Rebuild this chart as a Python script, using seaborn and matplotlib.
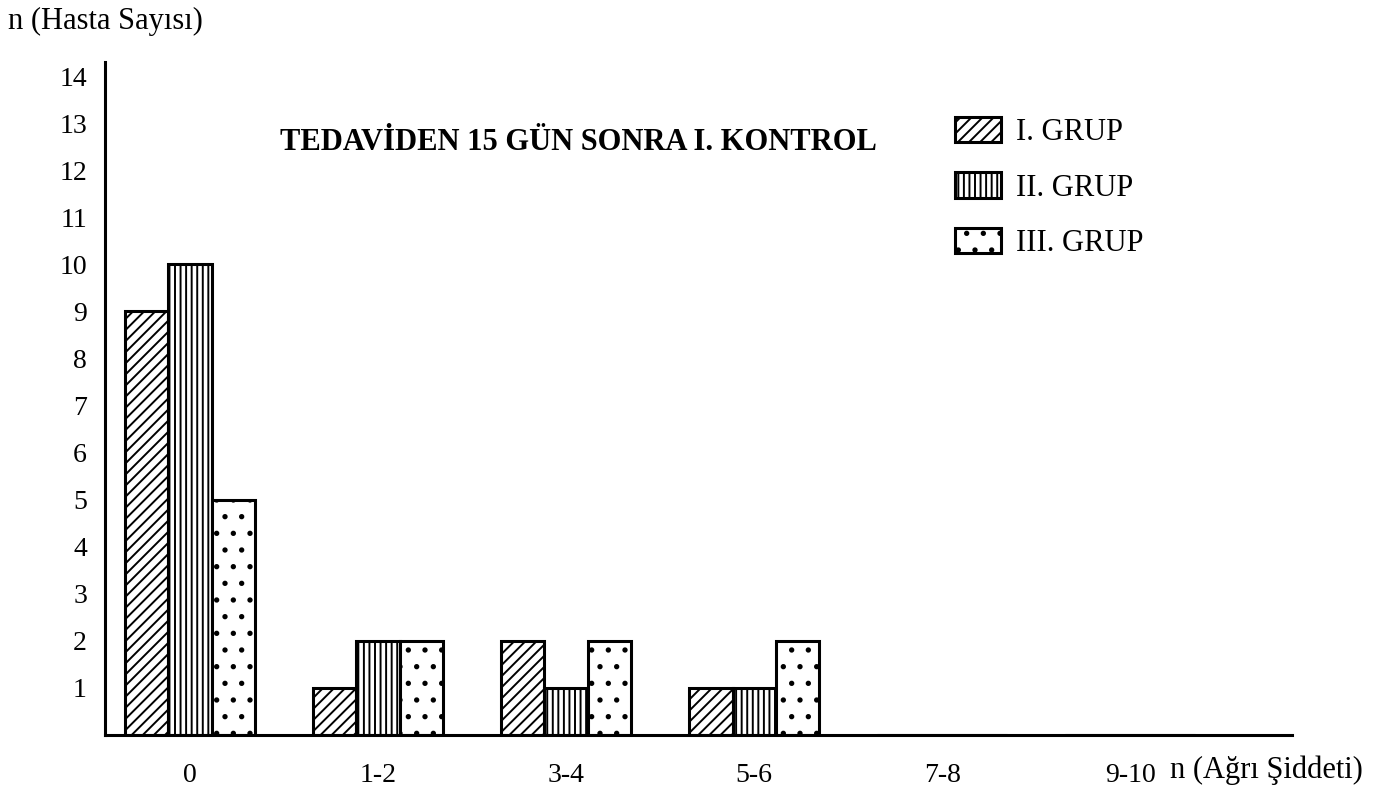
import matplotlib
matplotlib.use("Agg")
import matplotlib.pyplot as plt
import seaborn as sns
import pandas as pd

# ağrı şiddeti kategorileri ve grup başına hasta sayıları
categories = ["0", "1-2", "3-4", "5-6", "7-8", "9-10"]
groups = ["I. GRUP", "II. GRUP", "III. GRUP"]
grup1 = [9, 1, 2, 1, 0, 0]
grup2 = [10, 2, 1, 1, 0, 0]
grup3 = [5, 2, 2, 2, 0, 0]
yticks = list(range(1, 15))

df = pd.DataFrame({
    "agri": categories * 3,
    "grup": [g for g in groups for _ in categories],
    "n": grup1 + grup2 + grup3,
})

sns.set_theme(style="white")
plt.rcParams["font.family"] = ["Liberation Serif", "DejaVu Serif"]
plt.rcParams["text.color"] = "black"
plt.rcParams["hatch.linewidth"] = 1.4
plt.rcParams["hatch.color"] = "black"

fig = plt.figure(figsize=(13.87, 7.87), dpi=100)
ax = fig.add_axes([105 / 1387, 52 / 787, 1187 / 1387, 673 / 787])

sns.barplot(data=df, x="agri", y="n", hue="grup", order=categories,
            hue_order=groups, palette=["white"] * 3, edgecolor="black",
            linewidth=2.2, width=0.69, saturation=1, legend=False, ax=ax)

hatches = ["///", "|||", "."]
for cont, h in zip(ax.containers, hatches):
    for bar in cont:
        bar.set_hatch(h)

ax.set_xlim(-0.452, 5.86)
ax.set_ylim(0, 14.3)
ax.set_yticks(yticks)
ax.set_xlabel("")
ax.set_ylabel("")
ax.tick_params(axis="both", length=0, labelsize=20, colors="black")
ax.tick_params(axis="y", pad=13)
ax.tick_params(axis="x", pad=20)
sns.despine(ax=ax)
for side in ["left", "bottom"]:
    ax.spines[side].set_linewidth(2.2)
    ax.spines[side].set_color("black")

ax.legend(handles=[c[0] for c in ax.containers], labels=groups,
          loc="upper left", bbox_to_anchor=(955 / 1387, 1 - 117 / 787),
          bbox_transform=fig.transFigure, frameon=False, fontsize=22,
          handlelength=1.5, handleheight=0.9, handletextpad=0.5,
          labelspacing=0.82, borderpad=0, borderaxespad=0)

fig.text(578 / 1387, 1 - 142 / 787, "TEDAVİDEN 15 GÜN SONRA I. KONTROL",
         ha="center", va="center", fontsize=22, fontweight="bold")
fig.text(8 / 1387, 1 - 21 / 787, "n (Hasta Sayısı)", ha="left",
         va="center", fontsize=22)
fig.text(1170 / 1387, 1 - 770 / 787, "n (Ağrı Şiddeti)", ha="left",
         va="center", fontsize=22)

fig.savefig("out.png", dpi=100, facecolor="white")
